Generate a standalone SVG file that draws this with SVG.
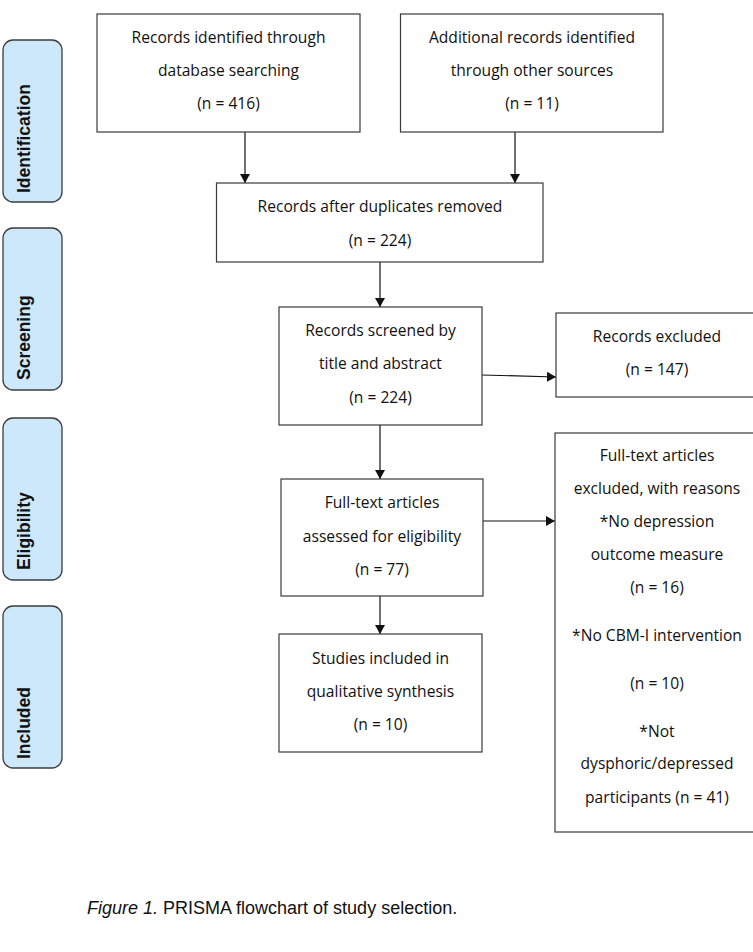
<svg xmlns="http://www.w3.org/2000/svg" width="753" height="952" viewBox="0 0 753 952">
<style>
.box{fill:#fff;stroke:#3a3a3a;stroke-width:1.2}
.lab{fill:#cde8fb;stroke:#3c3c3c;stroke-width:1.3}
.t{font-family:"Open Sans",sans-serif;font-size:15.6px;fill:#111;text-anchor:middle}
.lt{font-family:"Liberation Sans",Arial,sans-serif;font-size:17.5px;font-weight:bold;fill:#111}
.cap{font-family:"Liberation Sans",Arial,sans-serif;font-size:18px;fill:#111}
.c{stroke:#111;stroke-width:1.2;fill:none;marker-end:url(#ah)}
</style>
<defs>
<marker id="ah" markerWidth="10" markerHeight="10" refX="9" refY="5" orient="auto" markerUnits="userSpaceOnUse">
<path d="M0,0 L9,5 L0,10 z" fill="#111"/>
</marker>
</defs>
<rect width="753" height="952" fill="#fff"/>

<g id="lab-identification"><rect class="lab" x="3" y="40" width="59" height="162" rx="10"/><text class="lt" transform="translate(29.5,193) rotate(-90)">Identification</text></g>
<g id="lab-screening"><rect class="lab" x="3" y="228" width="59" height="162" rx="10"/><text class="lt" transform="translate(29.5,380) rotate(-90)">Screening</text></g>
<g id="lab-eligibility"><rect class="lab" x="3" y="418" width="59" height="162" rx="10"/><text class="lt" transform="translate(29.5,570) rotate(-90)">Eligibility</text></g>
<g id="lab-included"><rect class="lab" x="3" y="606" width="59" height="162" rx="10"/><text class="lt" transform="translate(29.5,759) rotate(-90)">Included</text></g>

<g id="connectors">
<line class="c" x1="245" y1="132" x2="245" y2="183"/>
<line class="c" x1="515" y1="132" x2="515" y2="183"/>
<line class="c" x1="380" y1="262" x2="380" y2="307"/>
<line class="c" x1="482" y1="375" x2="556" y2="377"/>
<line class="c" x1="380" y1="425" x2="380" y2="479"/>
<line class="c" x1="483" y1="521" x2="555" y2="521"/>
<line class="c" x1="380" y1="596" x2="380" y2="634"/>
</g>

<g id="n-database"><rect class="box" x="97" y="14" width="263" height="118"/>
<text class="t" x="228.5" y="43">Records identified through</text>
<text class="t" x="228.5" y="76">database searching</text>
<text class="t" x="228.5" y="109">(n = 416)</text></g>

<g id="n-other"><rect class="box" x="400.5" y="14" width="262.5" height="118"/>
<text class="t" x="532" y="43">Additional records identified</text>
<text class="t" x="532" y="76">through other sources</text>
<text class="t" x="532" y="109">(n = 11)</text></g>

<g id="n-duplicates"><rect class="box" x="216.5" y="183" width="326.5" height="79"/>
<text class="t" x="380" y="212">Records after duplicates removed</text>
<text class="t" x="380" y="246">(n = 224)</text></g>

<g id="n-screened"><rect class="box" x="279" y="307" width="203" height="118"/>
<text class="t" x="380.5" y="336">Records screened by</text>
<text class="t" x="380.5" y="369">title and abstract</text>
<text class="t" x="380.5" y="403">(n = 224)</text></g>

<g id="n-excluded"><rect class="box" x="556" y="313" width="210" height="84"/>
<text class="t" x="657" y="342">Records excluded</text>
<text class="t" x="657" y="375">(n = 147)</text></g>

<g id="n-assessed"><rect class="box" x="281" y="479" width="202" height="117"/>
<text class="t" x="382" y="508">Full-text articles</text>
<text class="t" x="382" y="542">assessed for eligibility</text>
<text class="t" x="382" y="575">(n = 77)</text></g>

<g id="n-fulltext-excluded"><rect class="box" x="555" y="433" width="210" height="399"/>
<text class="t" x="657" y="461">Full-text articles</text>
<text class="t" x="657" y="494">excluded, with reasons</text>
<text class="t" x="657" y="527">*No depression</text>
<text class="t" x="657" y="560">outcome measure</text>
<text class="t" x="657" y="593">(n = 16)</text>
<text class="t" x="657" y="641">*No CBM-I intervention</text>
<text class="t" x="657" y="689">(n = 10)</text>
<text class="t" x="657" y="737">*Not</text>
<text class="t" x="657" y="769">dysphoric/depressed</text>
<text class="t" x="657" y="803">participants (n = 41)</text></g>

<g id="n-included"><rect class="box" x="279" y="634" width="203" height="118"/>
<text class="t" x="380.5" y="664">Studies included in</text>
<text class="t" x="380.5" y="697">qualitative synthesis</text>
<text class="t" x="380.5" y="730">(n = 10)</text></g>

<text class="cap" x="87" y="914"><tspan font-style="italic">Figure 1.</tspan> PRISMA flowchart of study selection.</text>
</svg>
